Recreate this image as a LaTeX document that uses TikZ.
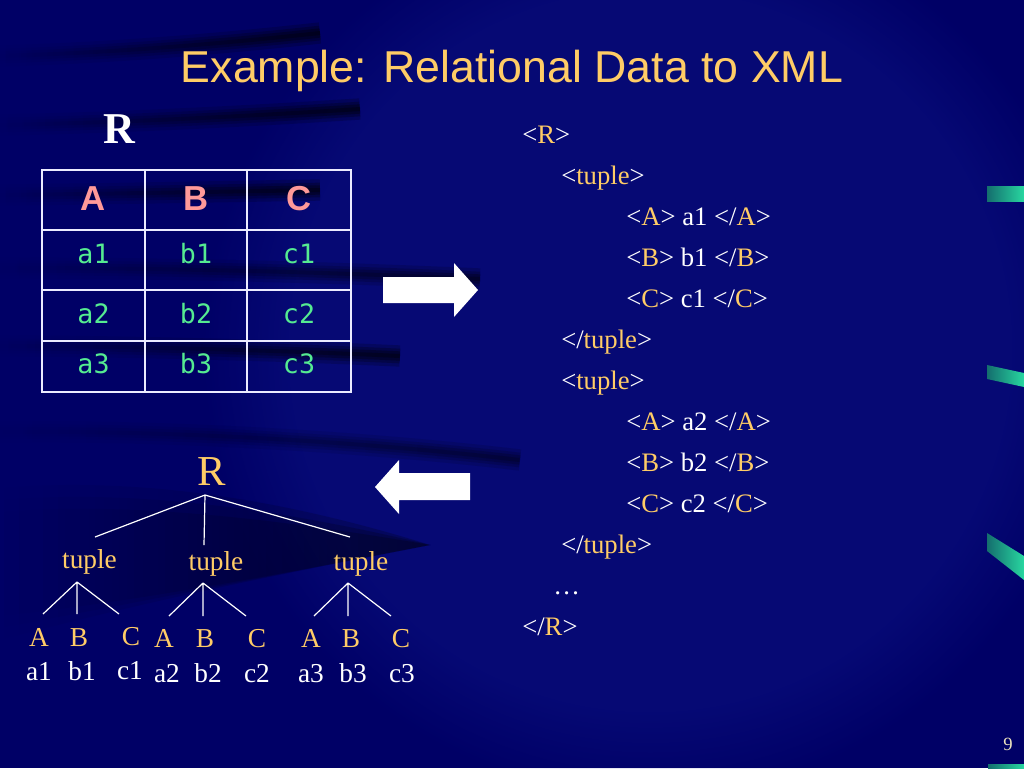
\documentclass[tikz,border=0pt]{standalone}
\usepackage{fontspec}
\usepackage{graphicx}
\setmainfont{Liberation Serif}
\newfontfamily\titlefont{Liberation Sans}
\newfontfamily\codefont{DejaVu Sans Mono}
\usetikzlibrary{fadings}
\definecolor{navy}{RGB}{0,0,102}
\definecolor{navylight}{RGB}{20,30,150}
\definecolor{gold}{RGB}{255,204,102}
\definecolor{pinkh}{RGB}{255,153,153}
\definecolor{mint}{RGB}{85,235,145}
\definecolor{ribbonA}{RGB}{20,110,110}
\definecolor{ribbonB}{RGB}{40,215,160}
\definecolor{cream}{RGB}{235,225,190}
\definecolor{tablew}{RGB}{235,235,255}
\newcommand\tg[1]{\textcolor{white}{<}\textcolor{gold}{#1}\textcolor{white}{>}}
\newcommand\etg[1]{\textcolor{white}{</}\textcolor{gold}{#1}\textcolor{white}{>}}
\begin{document}
\begin{tikzpicture}[x=0.75pt,y=-0.75pt,
  tline/.style={tablew,line width=2pt},
  hdr/.style={anchor=base,inner sep=0pt,text=pinkh,font=\titlefont\bfseries\fontsize{26}{30}\selectfont},
  cell/.style={anchor=base,inner sep=0pt,text=mint,font=\codefont\fontsize{20}{24}\selectfont},
  xml/.style={anchor=base west,inner sep=0pt,text=white,font=\fontsize{20}{24}\selectfont},
  tlab/.style={anchor=base,inner sep=0pt,text=gold,font=\fontsize{20.5}{24}\selectfont},
  tval/.style={anchor=base,inner sep=0pt,text=white,font=\fontsize{20.5}{24}\selectfont},
  edge/.style={white,line width=0.9pt},
  blockarrow/.style={fill=white},
  ribbon/.style={left color=ribbonA,right color=ribbonB}]
\useasboundingbox (0,0) rectangle (1024,768);
% background
\fill[navy] (0,0) rectangle (1024,768);
\fill[navylight,opacity=0.3,path fading=circle with fuzzy edge 20 percent] (200,-100) rectangle (1100,800);
\foreach \w/\o in {16pt/0.2,11pt/0.25,7pt/0.3,3pt/0.3}{
  \draw[black,path fading=west,opacity=\o,line width=\w] (0,56) .. controls (100,53) and (200,46) .. (320,33);
  \draw[black,path fading=west,opacity=\o,line width=\w] (0,125) .. controls (100,123) and (220,118) .. (360,109);
  \draw[black,path fading=west,opacity=\o,line width=\w] (0,195) .. controls (100,194) and (200,192) .. (320,190);
  \draw[black,path fading=west,opacity=0.8*\o,line width=\w] (0,268) .. controls (150,268) and (300,271) .. (480,279);
  \draw[black,path fading=west,opacity=\o,line width=\w] (0,346) .. controls (100,346) and (250,349) .. (400,356);
  \draw[black,path fading=west,opacity=0.6*\o,line width=\w] (0,432) .. controls (150,430) and (350,440) .. (520,460);
}
\foreach \o/\d in {0.22/0,0.22/12,0.22/24}{
  \fill[black,path fading=west,opacity=\o] (0,488+\d) .. controls (120,478+\d) and (260,492+\d) .. (430,545)
    .. controls (300,570) and (150,600) .. (0,640-\d) -- cycle;
}
% ribbons on the right
\shade[ribbon] (987,186) rectangle (1024,201);
\shade[ribbon] (987,365) -- (1024,373) -- (1024,387) -- (987,379) -- cycle;
\shade[ribbon] (987,533) -- (1024,556) -- (1024,580) -- (987,551) -- cycle;
\shade[ribbon] (988,764) rectangle (1024,768);
% title
\node[anchor=base,inner sep=0pt,text=gold,font=\titlefont\fontsize{33.5}{40}\selectfont] (title) at (512,82) {Example: Relational Data to XML};
% relation name
\node[anchor=base,inner sep=0pt,text=white,font=\bfseries\fontsize{33}{40}\selectfont] (rname) at (119,143) {R};
% table
\draw[tline] (42,170) rectangle (351,392);
\draw[tline] (145,170) -- (145,392) (247,170) -- (247,392);
\draw[tline] (42,230) -- (351,230) (42,290) -- (351,290) (42,341) -- (351,341);
\node[hdr] (hA) at (93.5,210) {A};
\node[hdr] (hB) at (196,210) {B};
\node[hdr] (hC) at (299,210) {C};
\node[cell] (a1) at (93.5,263) {a1};
\node[cell] (b1) at (196,263) {b1};
\node[cell] (c1) at (299,263) {c1};
\node[cell] (a2) at (93.5,323) {a2};
\node[cell] (b2) at (196,323) {b2};
\node[cell] (c2) at (299,323) {c2};
\node[cell] (a3) at (93.5,373) {a3};
\node[cell] (b3) at (196,373) {b3};
\node[cell] (c3) at (299,373) {c3};
% block arrows
\fill[blockarrow] (383,277) -- (454,277) -- (454,263) -- (478,290) -- (454,317) -- (454,303) -- (383,303) -- cycle;
\fill[blockarrow] (470,473) -- (399,473) -- (399,460) -- (375,487) -- (399,514) -- (399,500) -- (470,500) -- cycle;
% XML text
\node[xml] (x1) at (522,143) {\tg{R}};
\node[xml] (x2) at (561,184) {\tg{tuple}};
\node[xml] (x3) at (626,225) {\tg{A} a1 \etg{A}};
\node[xml] (x4) at (626,266) {\tg{B} b1 \etg{B}};
\node[xml] (x5) at (626,307) {\tg{C} c1 \etg{C}};
\node[xml] (x6) at (561,348) {\etg{tuple}};
\node[xml] (x7) at (561,389) {\tg{tuple}};
\node[xml] (x8) at (626,430) {\tg{A} a2 \etg{A}};
\node[xml] (x9) at (626,471) {\tg{B} b2 \etg{B}};
\node[xml] (x10) at (626,512) {\tg{C} c2 \etg{C}};
\node[xml] (x11) at (561,553) {\etg{tuple}};
\node[xml] (x12) at (553,594) {\dots};
\node[xml] (x13) at (522,635) {\etg{R}};
% tree
\node[anchor=base,inner sep=0pt,text=gold,font=\fontsize{32}{38}\selectfont] (tR) at (212,485) {R};
\node[tlab] (t1) at (89.5,568) {tuple};
\node[tlab] (t2) at (216,570) {tuple};
\node[tlab] (t3) at (361,570) {tuple};
\node[tlab] (l1A) at (39,646) {A};
\node[tlab] (l1B) at (79,646) {B};
\node[tlab] (l1C) at (131,645) {C};
\node[tlab] (l2A) at (164,647) {A};
\node[tlab] (l2B) at (205,647) {B};
\node[tlab] (l2C) at (257,647) {C};
\node[tlab] (l3A) at (311,647) {A};
\node[tlab] (l3B) at (351,647) {B};
\node[tlab] (l3C) at (401,647) {C};
\node[tval] (v1a) at (39,680) {a1};
\node[tval] (v1b) at (82,680) {b1};
\node[tval] (v1c) at (130,679) {c1};
\node[tval] (v2a) at (167,682) {a2};
\node[tval] (v2b) at (208,682) {b2};
\node[tval] (v2c) at (257,682) {c2};
\node[tval] (v3a) at (311,682) {a3};
\node[tval] (v3b) at (353,682) {b3};
\node[tval] (v3c) at (402,682) {c3};
% connector end points
\coordinate (rS) at (205,495);
\coordinate (t1N) at (95,537);
\coordinate (t2N) at (204,545);
\coordinate (t3N) at (350,537);
\coordinate (t1S) at (77,582);
\coordinate (t2S) at (203,583);
\coordinate (t3S) at (348,583);
\coordinate (l1AN) at (43,614);
\coordinate (l1BN) at (77,614);
\coordinate (l1CN) at (119,614);
\coordinate (l2AN) at (169,616);
\coordinate (l2BN) at (203,616);
\coordinate (l2CN) at (246,616);
\coordinate (l3AN) at (314,616);
\coordinate (l3BN) at (348,616);
\coordinate (l3CN) at (391,616);
\draw[edge] (rS) -- (t1N) (rS) -- (t2N) (rS) -- (t3N);
\draw[edge] (t1S) -- (l1AN) (t1S) -- (l1BN) (t1S) -- (l1CN);
\draw[edge] (t2S) -- (l2AN) (t2S) -- (l2BN) (t2S) -- (l2CN);
\draw[edge] (t3S) -- (l3AN) (t3S) -- (l3BN) (t3S) -- (l3CN);
% page number
\node[anchor=base,inner sep=0pt,text=cream,font=\fontsize{14}{16}\selectfont] (pnum) at (1008,750) {9};
\end{tikzpicture}
\end{document}
